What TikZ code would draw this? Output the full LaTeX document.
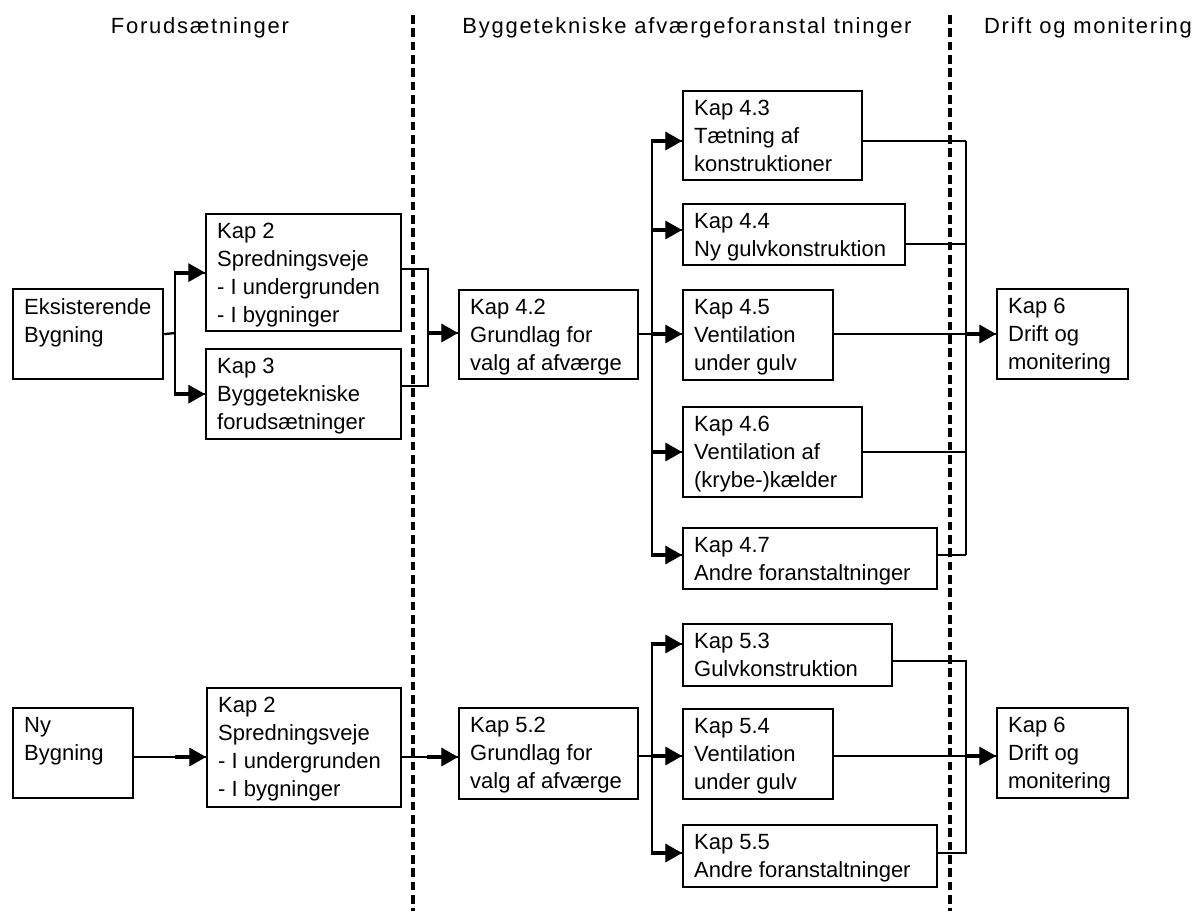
\documentclass[tikz,border=0pt]{standalone}
\usepackage{fontspec}
\setmainfont{Liberation Sans}
\newfontfamily\headfont[LetterSpace=8]{Liberation Sans}
\usetikzlibrary{arrows.meta}

\newcommand\kbox[6]{%
  \node[kbox] (#1) at (#2,#3) {\parbox[c][\dimexpr #5pt*3/4-13.5pt\relax][t]{\dimexpr #4pt*3/4-16.5pt\relax}{\raggedright\hyphenpenalty=10000 \exhyphenpenalty=10000 #6}};}
% connector ending in an arrow: thin line, then thick shaft with a filled triangle
\newcommand\arrowline[2]{%
  \draw[conn] (#1) -- (#2);
  \draw[arrowtip] (#2) ++(-23pt,0) -- (#2);}

\tikzset{
  kbox/.style={draw, line width=1.7pt, fill=white, anchor=north west,
    inner xsep=8.25pt, inner ysep=6.75pt, font=\fontsize{16.5}{21}\selectfont},
  conn/.style={line width=1.7pt},
  arrowtip/.style={line width=3.2pt, -{Triangle[length=12.5pt 0 0,width=14pt 0 0,line width=0.8pt]}},
  divider/.style={line width=2.5pt, dash pattern=on 6.5pt off 3.5pt},
  head/.style={anchor=base, font=\headfont\fontsize{16.5}{21}\selectfont, inner sep=0pt}
}

\begin{document}
\begin{tikzpicture}[x=0.75pt, y=-0.75pt]
\fill[white] (0,0) rectangle (1202,911);
\useasboundingbox (0,0) rectangle (1202,911);

% headers
\node[head] (h1) at (200,33) {Forudsætninger};
\node[head] (h2) at (687,33) {Byggetekniske afværgeforanstal tninger};
\node[head] (h3) at (1088,33) {Drift og monitering};

% dividers
\coordinate (d1t) at (413,15); \coordinate (d1b) at (413,911);
\coordinate (d2t) at (950,15); \coordinate (d2b) at (950,911);
\draw[divider] (d1t) -- (d1b);
\draw[divider] (d2t) -- (d2b);

% top row boxes
\kbox{E}{12}{288}{150}{90}{Eksisterende\\Bygning}
\kbox{K2a}{205}{213}{195}{117}{Kap 2\\Spredningsveje\\- I undergrunden\\- I bygninger}
\kbox{K3}{205}{348}{195}{90}{Kap 3\\Byggetekniske\\forudsætninger}
\kbox{K42}{458}{289}{179}{89}{Kap 4.2\\Grundlag for\\valg af afværge}
\kbox{K43}{682}{90}{179}{89}{Kap 4.3\\Tætning af\\konstruktioner}
\kbox{K44}{682}{203}{222}{61}{Kap 4.4\\Ny gulvkonstruktion}
\kbox{K45}{682}{289}{150}{90}{Kap 4.5\\Ventilation\\under gulv}
\kbox{K46}{682}{406}{179}{90}{Kap 4.6\\Ventilation af\\(krybe-)kælder}
\kbox{K47}{682}{527}{254}{61}{Kap 4.7\\Andre foranstaltninger}
\kbox{K6a}{996}{288}{131}{90}{Kap 6\\Drift og\\monitering}

% bottom row boxes
\kbox{Ny}{12}{707}{120}{90}{Ny\\Bygning}
\kbox{K2b}{206}{687}{194}{119}{Kap 2\\Spredningsveje\\- I undergrunden\\- I bygninger}
\kbox{K52}{458}{707}{179}{91}{Kap 5.2\\Grundlag for\\valg af afværge}
\kbox{K53}{682}{623}{209}{62}{Kap 5.3\\Gulvkonstruktion}
\kbox{K54}{682}{708}{150}{90}{Kap 5.4\\Ventilation\\under gulv}
\kbox{K55}{682}{824}{254}{62}{Kap 5.5\\Andre foranstaltninger}
\kbox{K6b}{996}{707}{131}{90}{Kap 6\\Drift og\\monitering}

% ---- top connectors
\coordinate (b1) at (175,333);
\draw[conn] (E.east) -- (b1);
\draw[conn] (b1 |- K2a.west) -- (b1 |- K3.west);
\arrowline{b1 |- K2a.west}{K2a.west}
\arrowline{b1 |- K3.west}{K3.west}

\coordinate (m1) at (428,333);
\draw[conn] ([yshift=3pt]K2a.east) -| (m1);
\draw[conn] ([yshift=6pt]K3.east) -| (m1);
\arrowline{m1}{m1 -| K42.west}

\coordinate (b2) at (652,334);
\coordinate (a43) at (652,141);
\coordinate (a44) at (652,230);
\coordinate (a46) at (652,452);
\coordinate (a47) at (652,555);
\draw[conn] (K42.east |- b2) -- (b2);
\draw[conn] (a43) -- (a47);
\arrowline{a43}{a43 -| K43.west}
\arrowline{a44}{a44 -| K44.west}
\arrowline{b2}{b2 -| K45.west}
\arrowline{a46}{a46 -| K46.west}
\arrowline{a47}{a47 -| K47.west}

\coordinate (o43) at (966,141);
\coordinate (o44) at (966,244);
\coordinate (o46) at (966,452);
\coordinate (o47) at (966,555);
\draw[conn] (o43 -| K43.east) -- (o43);
\draw[conn] (o44 -| K44.east) -- (o44);
\draw[conn] (o46 -| K46.east) -- (o46);
\draw[conn] (o47 -| K47.east) -- (o47);
\draw[conn] (o43) -- (o47);
\arrowline{K45.east |- b2}{b2 -| K6a.west}

% ---- bottom connectors
\coordinate (r1) at (0,757);
\arrowline{Ny.east |- r1}{K2b.west |- r1}
\arrowline{K2b.east |- r1}{K52.west |- r1}

\coordinate (a53) at (652,644);
\coordinate (a54) at (652,756);
\coordinate (a55) at (652,853);
\draw[conn] (K52.east |- a54) -- (a54);
\draw[conn] (a53) -- (a55);
\arrowline{a53}{a53 -| K53.west}
\arrowline{a54}{a54 -| K54.west}
\arrowline{a55}{a55 -| K55.west}

\coordinate (o53) at (966,661);
\coordinate (o55) at (966,853);
\draw[conn] (o53 -| K53.east) -- (o53) -- (o55) -- (o55 -| K55.east);
\arrowline{K54.east |- a54}{a54 -| K6b.west}
\end{tikzpicture}
\end{document}
